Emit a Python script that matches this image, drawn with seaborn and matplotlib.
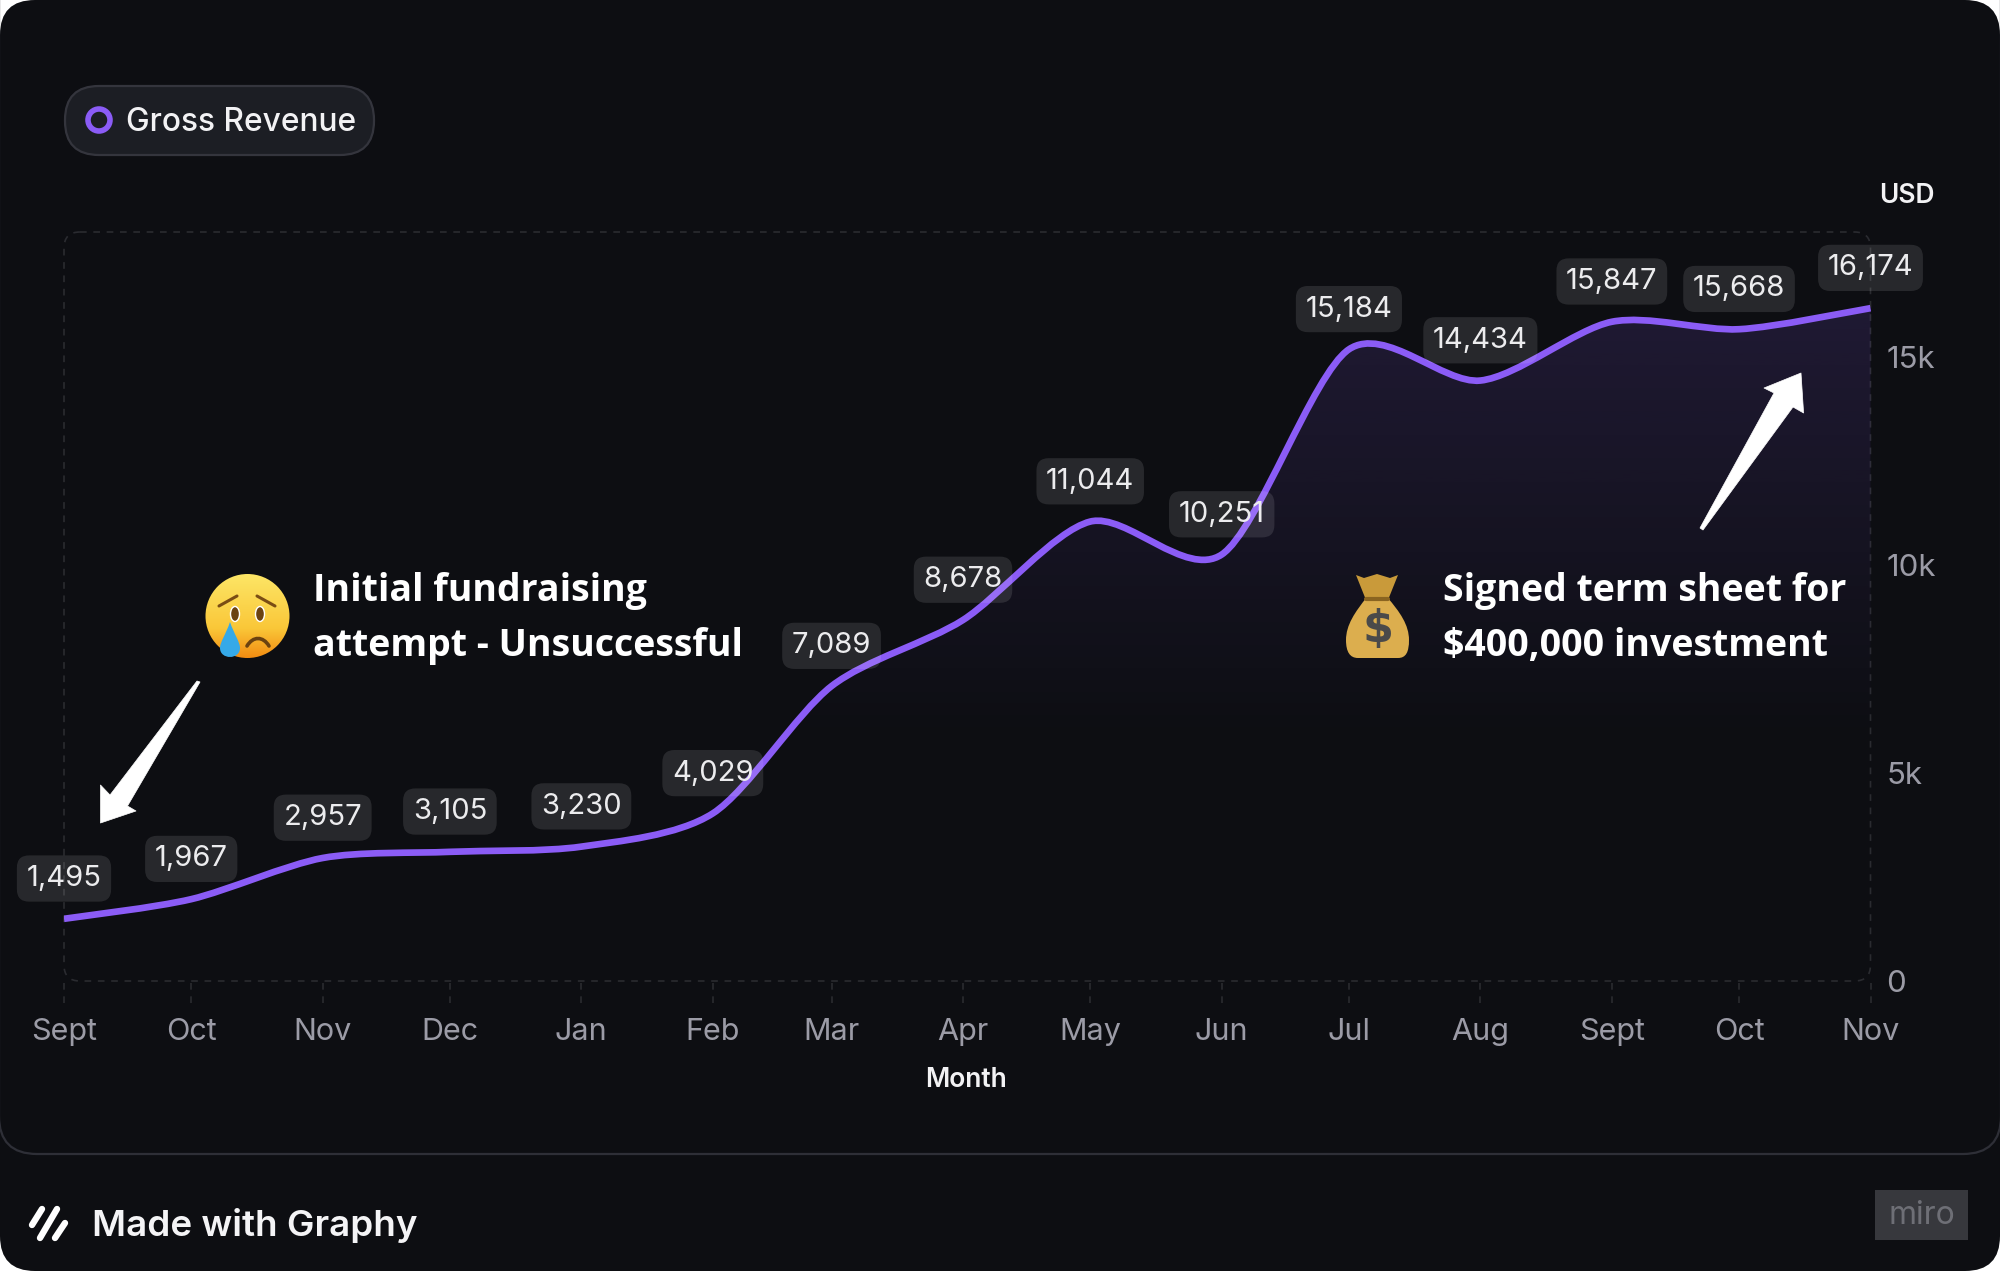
import numpy as np
import pandas as pd
import matplotlib
matplotlib.use('Agg')
import matplotlib.pyplot as plt
import matplotlib.dates as mdates
from matplotlib.patches import FancyBboxPatch, PathPatch, Circle, Ellipse, Polygon
from matplotlib.path import Path
import seaborn as sns

# Valores
months = ['2022-09-01', '2022-10-01', '2022-11-01', '2022-12-01', '2023-01-01',
          '2023-02-01', '2023-03-01', '2023-04-01', '2023-05-01', '2023-06-01',
          '2023-07-01', '2023-08-01', '2023-09-01', '2023-10-01', '2023-11-01']
month_labels = ['Sept', 'Oct', 'Nov', 'Dec', 'Jan', 'Feb', 'Mar', 'Apr', 'May', 'Jun',
                'Jul', 'Aug', 'Sept', 'Oct', 'Nov']
revenue = [1495, 1967, 2957, 3105, 3230, 4029, 7089, 8678, 11044, 10251,
           15184, 14434, 15847, 15668, 16174]
y_ticks = [0, 5000, 10000, 15000]
y_tick_labels = ['0', '5k', '10k', '15k']

BG = '#0d0e12'
PURPLE = '#8b5cf6'
GREY = '#9b9ba6'
W, H = 2000, 1271

sns.set_theme(style='white')
plt.rcParams['font.family'] = ['Inter', 'DejaVu Sans']

fig = plt.figure(figsize=(20, 12.71), dpi=100, facecolor='white')

# fundo em coordenadas de pixel
bg = fig.add_axes([0, 0, 1, 1], zorder=0)
bg.set_xlim(0, W)
bg.set_ylim(H, 0)
bg.axis('off')
bg.add_patch(FancyBboxPatch((0, 0), W, H, boxstyle='round,pad=0,rounding_size=35', fc=BG, ec='none'))
bg.add_patch(FancyBboxPatch((-1, -40), W + 2, 1194, boxstyle='round,pad=0,rounding_size=38',
                            fc='none', ec='#2e2f37', lw=1.6))
bg.add_patch(FancyBboxPatch((64, 232), 1806.5, 749, boxstyle='round,pad=0,rounding_size=16',
                            fc='none', ec='#2a2b30', lw=1.2, ls=(0, (4, 4))))

# grafico principal
ax = fig.add_axes([64 / W, 1 - 981 / H, 1806.5 / W, 749 / H], zorder=1)
ax.patch.set_alpha(0)
df = pd.DataFrame({'month': pd.to_datetime(months), 'revenue': revenue})
sns.lineplot(data=df, x='month', y='revenue', ax=ax, linewidth=0)
sns.despine(ax=ax, left=True, bottom=True, right=True, top=True)

xs = mdates.date2num(df['month'])
ys = df['revenue'].to_numpy(dtype=float)

# curva suave passando pelos pontos (bezier)
k = 0.14
verts = [(xs[0], ys[0])]
codes = [Path.MOVETO]
for i in range(len(xs) - 1):
    a = max(i - 1, 0)
    b = min(i + 2, len(xs) - 1)
    verts.append((xs[i] + k * (xs[i + 1] - xs[a]), ys[i] + k * (ys[i + 1] - ys[a])))
    verts.append((xs[i + 1] - k * (xs[b] - xs[i]), ys[i + 1] - k * (ys[b] - ys[i])))
    verts.append((xs[i + 1], ys[i + 1]))
    codes += [Path.CURVE4, Path.CURVE4, Path.CURVE4]

# area com gradiente
area = PathPatch(Path(verts + [(xs[-1], 0), (xs[0], 0), (xs[0], ys[0])],
                      codes + [Path.LINETO, Path.LINETO, Path.CLOSEPOLY]),
                 fc='none', ec='none', transform=ax.transData)
ax.add_patch(area)
grad = np.zeros((256, 1, 4))
grad[..., :3] = matplotlib.colors.to_rgb(PURPLE)
grad[:, 0, 3] = np.clip(np.linspace(0.15, -0.077, 256), 0, 1)
img = ax.imshow(grad, extent=(xs[0], xs[-1], 0, 16300), origin='upper', aspect='auto', zorder=1.5)
img.set_clip_path(area)

ax.add_patch(PathPatch(Path(verts, codes), fc='none', ec=PURPLE, lw=4.8, capstyle='butt', zorder=3))

ax.set_xlim(xs[0], xs[-1])
ax.set_ylim(0, 18005)

ax.set_xticks(xs)
ax.set_xticklabels(month_labels)
ax.yaxis.tick_right()
ax.set_yticks(y_ticks)
ax.set_yticklabels(y_tick_labels)
ax.tick_params(axis='x', length=0, pad=26.5, labelsize=22, labelcolor=GREY)
ax.tick_params(axis='y', length=0, pad=11.5, labelsize=22.5, labelcolor=GREY)
ax.set_xlabel('')
ax.set_ylabel('')
ax.vlines(xs, -22 / 749, 0, transform=ax.get_xaxis_transform(), colors='#2a2b30',
          lw=1.2, ls=(0, (4, 4)), clip_on=False)

# rotulos de valor
for x, y in zip(xs, revenue):
    ax.annotate(f'{y:,}', xy=(x, y), xytext=(0, 29), textcoords='offset points',
                ha='center', va='center', fontsize=21, color='#ececee', zorder=4,
                annotation_clip=False,
                bbox=dict(boxstyle='round,pad=0.33,rounding_size=0.42', fc=(1, 1, 1, 0.11), ec='none'))

# camada de cima em pixels
top = fig.add_axes([0, 0, 1, 1], zorder=2)
top.patch.set_alpha(0)
top.axis('off')

# legenda
top.add_patch(FancyBboxPatch((65, 86), 309, 69, boxstyle='round,pad=0,rounding_size=34',
                             fc='#1c1e24', ec='#34353d', lw=1.6))
top.add_patch(Circle((99, 120), 11, fc='none', ec=PURPLE, lw=4))
top.text(126, 131, 'Gross Revenue', fontsize=22.8, fontweight='medium', color='#f2f2f4', va='baseline')

top.text(1907, 196, 'USD', fontsize=19, fontweight='semibold', color='#f2f2f4', ha='center', va='center')
top.text(966, 1080, 'Month', fontsize=19, fontweight='semibold', color='#f2f2f4', ha='center', va='center')

# anotacoes
for x, y, s in [(313, 601, 'Initial fundraising'), (313, 656, 'attempt - Unsuccessful'),
                (1443, 601, 'Signed term sheet for'), (1443, 656, '$400,000 investment')]:
    top.text(x, y, s.replace('$', r'\$'), family=['Open Sans', 'DejaVu Sans'], fontweight='bold',
             fontsize=27, color='white', va='baseline')

# setas
top.add_patch(Polygon([(197, 681), (200, 682), (127.5, 806), (136, 811), (100.5, 823),
                       (100.5, 785), (110, 795)], fc='white', ec='white', lw=0.5, joinstyle='round'))
top.add_patch(Polygon([(1700, 528), (1703, 530), (1793, 407), (1803.6, 413), (1801, 373),
                       (1764, 388), (1774, 393)], fc='white', ec='white', lw=0.5, joinstyle='round'))

# emoji triste
face = Circle((247.5, 616), 42, fc='none', ec='none')
top.add_patch(face)
stops = np.linspace(0, 1, 128)
face_grad = np.ones((128, 1, 4))
face_grad[:, 0, 0] = np.interp(stops, [0, 0.65, 1], [0.99, 0.98, 0.95])
face_grad[:, 0, 1] = np.interp(stops, [0, 0.65, 1], [0.90, 0.78, 0.55])
face_grad[:, 0, 2] = np.interp(stops, [0, 0.65, 1], [0.40, 0.22, 0.07])
fimg = top.imshow(face_grad, extent=(205, 290, 658, 574), aspect='auto', zorder=2)
fimg.set_clip_path(face)
top.add_patch(Ellipse((235, 614), 9, 15, fc='#6b4210', zorder=3))
top.add_patch(Ellipse((260, 614), 9, 15, fc='#6b4210', zorder=3))
top.plot([219, 237], [606, 596], color='#7a4d14', lw=2.2, solid_capstyle='round', zorder=3)
top.plot([257, 275], [596, 606], color='#7a4d14', lw=2.2, solid_capstyle='round', zorder=3)
top.add_patch(PathPatch(Path([(247, 646), (253, 636), (263, 636), (269, 646)],
                             [Path.MOVETO, Path.CURVE4, Path.CURVE4, Path.CURVE4]),
                        fc='none', ec='#6b4210', lw=2.6, capstyle='round', zorder=3))
top.add_patch(PathPatch(Path([(230, 622), (226, 634), (220, 642), (220, 648), (220, 660), (240, 660),
                              (240, 648), (240, 642), (234, 634), (230, 622)],
                             [Path.MOVETO] + [Path.CURVE4] * 9),
                        fc='#35a9e8', ec='none', zorder=4))

# emoji saco de dinheiro
top.add_patch(Polygon([(1356, 575), (1364, 578), (1377, 574), (1390, 578), (1398, 575), (1388, 600),
                       (1366, 600)], fc='#c99a3a', ec='none', zorder=2))
top.add_patch(PathPatch(Path([(1367, 597), (1355, 612), (1346, 625), (1346, 640), (1346, 652), (1350, 658),
                              (1358, 658), (1398, 658), (1406, 658), (1409, 652), (1409, 640),
                              (1409, 625), (1400, 612), (1387, 597), (1367, 597)],
                             [Path.MOVETO, Path.CURVE4, Path.CURVE4, Path.CURVE4, Path.CURVE4, Path.CURVE4,
                              Path.CURVE4, Path.LINETO, Path.CURVE4, Path.CURVE4, Path.CURVE4,
                              Path.CURVE4, Path.CURVE4, Path.CURVE4, Path.CLOSEPOLY]),
                        fc='#dcae4e', ec='none', zorder=2))
top.plot([1366, 1388], [599, 599], color='#8a6420', lw=3, zorder=3)
top.text(1377.5, 630, r'\$', family='DejaVu Sans', fontweight='bold', fontsize=32, color='#4a4a4a',
         ha='center', va='center', zorder=3)

# rodape
for (x0, y0), (x1, y1) in [((32, 1225), (42, 1209)), ((40, 1238), (57, 1209)), ((55, 1238), (65, 1223))]:
    top.plot([x0, x1], [y0, y1], color='white', lw=4.6, solid_capstyle='round')
top.text(92, 1236, 'Made with Graphy', fontsize=26.5, fontweight='semibold', color='#f4f4f6', va='baseline')
top.add_patch(FancyBboxPatch((1875, 1190), 93, 50, boxstyle='square,pad=0', fc='#37383d', ec='none'))
top.text(1921.5, 1215, 'miro', fontsize=23, color='#6e6f76', ha='center', va='center')

top.set_xlim(0, W)
top.set_ylim(H, 0)

fig.savefig('out.png', dpi=100, facecolor=fig.get_facecolor())
plt.close(fig)
